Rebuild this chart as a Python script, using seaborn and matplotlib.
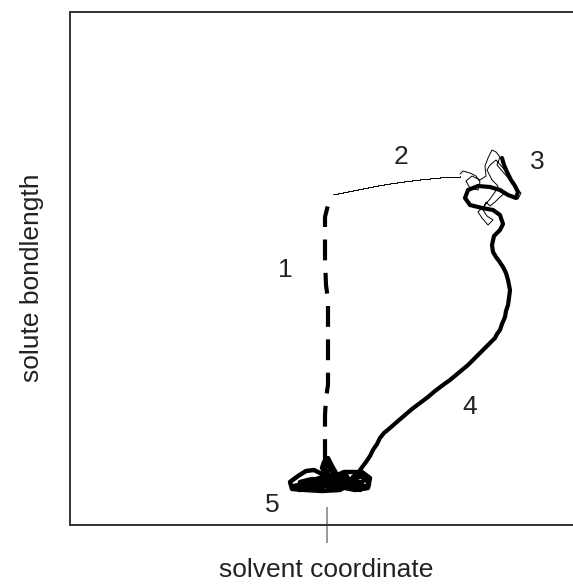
import matplotlib
matplotlib.use("Agg")
import matplotlib.pyplot as plt
import seaborn as sns
import pandas as pd

# Trajectory (x: solvent coordinate, y: pixel row, axis inverted)
seg1_x = [325, 325, 325, 326, 328, 328, 328, 328, 326, 325, 325, 325, 328, 331]
seg1_y = [460, 440, 415, 398, 385, 350, 320, 300, 285, 260, 240, 217, 205, 198]

seg2_x = [333, 338, 343, 348, 353, 358, 363, 368, 373, 378, 384, 390, 397, 404, 412,
          420, 430, 440, 450, 460]
seg2_y = [194, 193, 192, 191, 190, 189, 188, 187, 186, 185, 184, 183, 182, 181, 180,
          179, 178, 177, 177, 176]

seg3_x = [460, 463, 470, 476, 480, 478, 470, 466, 472, 480, 486, 485, 488, 492, 496, 500,
          497, 503, 510, 516, 521, 518, 512, 505, 500, 495, 490, 486, 483, 487, 493, 488,
          482, 478, 484, 490, 495, 498, 492, 487, 490, 496, 503, 508]
seg3_y = [174, 171, 173, 176, 182, 190, 188, 181, 176, 180, 176, 166, 158, 150, 152, 157,
          165, 172, 180, 188, 193, 199, 197, 193, 197, 202, 206, 202, 210, 216, 220, 225,
          218, 212, 206, 199, 192, 186, 180, 170, 165, 160, 168, 175]

seg4_x = [502, 504, 507, 511, 515, 518, 516, 508, 500, 490, 478, 468, 465, 470, 482, 493,
          500, 503, 500, 494, 492, 493, 496, 499, 503, 506, 508, 510, 509, 508, 506, 505,
          502, 500, 497, 495, 490, 484, 479, 473, 468, 462, 456, 450, 443, 435, 428, 420,
          412, 405, 398, 390, 384, 380, 377, 373, 370, 366, 363, 360, 357, 353]
seg4_y = [158, 165, 172, 180, 186, 192, 198, 195, 190, 187, 186, 190, 198, 205, 208, 210,
          215, 224, 230, 236, 245, 252, 257, 261, 267, 273, 280, 290, 298, 305, 311, 317,
          324, 330, 334, 338, 343, 349, 354, 360, 365, 370, 375, 380, 385, 391, 397, 403,
          409, 415, 421, 428, 433, 438, 444, 450, 456, 462, 466, 470, 474, 477]

seg5_x = [353, 362, 370, 368, 355, 340, 330, 325, 327, 330, 336, 345, 352, 340, 322, 305,
          292, 290, 298, 306, 314, 320, 330, 318, 305, 300, 312, 326, 338, 350, 360, 366,
          356, 344, 333, 326, 322, 324, 328, 332, 340, 352, 364, 369, 360, 346, 334, 318,
          302, 294, 300, 316, 330, 344, 358, 366, 350, 336, 320, 308, 297, 306, 320, 335,
          348, 362, 355, 340, 325, 328]
seg5_y = [477, 472, 478, 488, 490, 487, 482, 470, 460, 468, 478, 474, 483, 490, 491, 490,
          489, 482, 476, 471, 470, 473, 481, 486, 487, 482, 479, 483, 486, 487, 484, 478,
          472, 472, 477, 474, 468, 462, 458, 466, 480, 479, 476, 484, 490, 484, 488, 484,
          484, 486, 490, 488, 485, 482, 482, 488, 486, 480, 478, 481, 487, 483, 479, 475,
          480, 483, 487, 484, 479, 471]

label_text = ["1", "2", "3", "4", "5"]
label_x = [285, 401, 537, 470, 272]
label_y = [270, 157, 162, 407, 505]

tick_pos = [327]

sns.set_theme(style="white")
plt.rcParams["font.family"] = ["Liberation Sans", "DejaVu Sans"]

fig = plt.figure(figsize=(5.73, 5.87), dpi=100)
ax = fig.add_axes([70 / 573, (587 - 525) / 587, 530 / 573, 513 / 587])

segments = [
    (seg1_x, seg1_y, 3.0, (5, 3.0)),
    (seg2_x, seg2_y, 0.7, None),
    (seg3_x, seg3_y, 0.7, None),
    (seg4_x, seg4_y, 3.0, None),
    (seg5_x, seg5_y, 3.2, None),
]
for i, (xs, ys, lw, dash) in enumerate(segments):
    df = pd.DataFrame({"x": xs, "y": ys})
    kw = {}
    if i == 1:
        kw["drawstyle"] = "steps-post"
    sns.lineplot(data=df, x="x", y="y", sort=False, estimator=None,
                 color="black", linewidth=lw, ax=ax, **kw)
    if dash is not None:
        ax.lines[-1].set_dashes(dash)
    ax.lines[-1].set_solid_joinstyle("round")
    ax.lines[-1].set_solid_capstyle("round")

for t, x, y in zip(label_text, label_x, label_y):
    ax.text(x, y, t, fontsize=19, ha="center", va="center", color="#222222")

ax.set_xlim(70, 600)
ax.set_ylim(525, 12)
ax.set_xticks(tick_pos)
ax.set_xticklabels([""])
ax.set_yticks([])
ax.tick_params(axis="x", direction="inout", length=26, width=1.2, color="#888888", bottom=True)

for side in ["left", "top", "bottom", "right"]:
    ax.spines[side].set_color("#333333")
    ax.spines[side].set_linewidth(1.4)

ax.set_xlabel("solvent coordinate", fontsize=19, color="#222222")
ax.set_ylabel("solute bondlength", fontsize=19, color="#222222")
ax.xaxis.label.set_va("center")
ax.yaxis.label.set_va("center")
ax.xaxis.set_label_coords((326 - 70) / 530, (525 - 570) / 513)
ax.yaxis.set_label_coords((32 - 70) / 530, (525 - 278) / 513)

fig.savefig("out.png", dpi=100)
